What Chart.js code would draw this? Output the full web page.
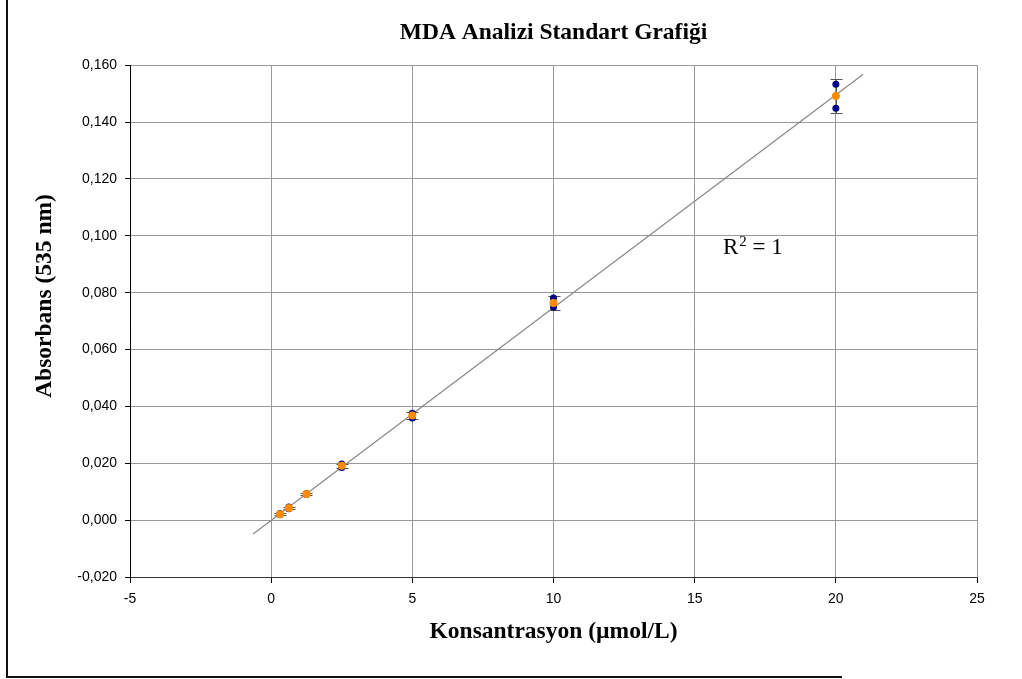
<!DOCTYPE html>
<html>
<head>
<meta charset="utf-8">
<title>MDA Analizi Standart Grafiği</title>
<script src="https://cdn.jsdelivr.net/npm/chart.js@4.4.1/dist/chart.umd.min.js"></script>
<style>
  html, body { margin: 0; padding: 0; background: #fff; overflow: hidden; }
  #wrap { position: relative; width: 1022px; height: 679px; }
  #frame { position: absolute; left: 6px; top: -4px; width: 834px; height: 680px;
           border-left: 2px solid #111; border-bottom: 2px solid #111; pointer-events: none; }
  #chart { position: absolute; left: 0; top: 0; }
</style>
</head>
<body>
<div id="wrap">
  <canvas id="chart" width="1022" height="679"></canvas>
  <div id="frame"></div>
</div>
<script>
// standard concentrations (µmol/L) and absorbance readings at 535 nm
const concentrations = [0.3125, 0.625, 1.25, 2.5, 5, 10, 20];
const meanAbs = [0.0021, 0.0043, 0.0092, 0.0191, 0.0368, 0.0764, 0.1492];
const replicateA = [0.0023, 0.0046, 0.0094, 0.0197, 0.0376, 0.0781, 0.1533];
const replicateB = [0.0019, 0.0040, 0.0090, 0.0185, 0.0359, 0.0749, 0.1449];
const sdAbs = [0.0003, 0.0004, 0.0003, 0.0008, 0.0012, 0.0025, 0.0060];

// linear trendline ends
const trendX = [-0.64, 20.97];
const trendY = [-0.0049, 0.1568];

const xTicks = [-5, 0, 5, 10, 15, 20, 25];
const yTicks = [-0.02, 0, 0.02, 0.04, 0.06, 0.08, 0.10, 0.12, 0.14, 0.16];

const serif = '"Liberation Serif", "Times New Roman", serif';
const sans = '"Liberation Sans", Arial, sans-serif';

const meanPoints = concentrations.map((x, i) => ({ x: x, y: meanAbs[i] }));
const replicatePoints = concentrations.map((x, i) => ({ x: x, y: replicateA[i] }))
  .concat(concentrations.map((x, i) => ({ x: x, y: replicateB[i] })));
const trendPoints = trendX.map((x, i) => ({ x: x, y: trendY[i] }));

// vertical error bars (± SD) behind the markers
const errorBars = {
  id: 'errorBars',
  beforeDatasetsDraw(chart) {
    const { ctx, scales: { x, y } } = chart;
    ctx.save();
    ctx.strokeStyle = '#555';
    ctx.lineWidth = 1;
    concentrations.forEach((c, i) => {
      const px = Math.round(x.getPixelForValue(c)) + 0.5;
      const top = Math.round(y.getPixelForValue(meanAbs[i] + sdAbs[i])) + 0.5;
      const bot = Math.round(y.getPixelForValue(meanAbs[i] - sdAbs[i])) + 0.5;
      ctx.beginPath();
      ctx.moveTo(px, top); ctx.lineTo(px, bot);
      ctx.moveTo(px - 6, top); ctx.lineTo(px + 6, top);
      ctx.moveTo(px - 6, bot); ctx.lineTo(px + 6, bot);
      ctx.stroke();
    });
    ctx.restore();
  }
};

// R² label of the trendline and the vertical axis title
const extraText = {
  id: 'extraText',
  afterDatasetsDraw(chart) {
    const { ctx, scales: { x, y } } = chart;
    ctx.save();
    ctx.fillStyle = '#000';
    ctx.textBaseline = 'middle';
    const rx = x.getPixelForValue(16.0), ry = y.getPixelForValue(0.0956);
    ctx.font = '23px ' + serif;
    ctx.fillText('R', rx, ry);
    const rw = ctx.measureText('R').width;
    ctx.font = '15px ' + serif;
    ctx.fillText('2', rx + rw + 1, ry - 6);
    const sw = ctx.measureText('2').width;
    ctx.font = '23px ' + serif;
    ctx.fillText(' = 1', rx + rw + sw + 1, ry);

    ctx.translate(45, 296);
    ctx.rotate(-Math.PI / 2);
    ctx.textAlign = 'center';
    ctx.font = 'bold 23.5px ' + serif;
    ctx.fillText('Absorbans (535 nm)', 0, 0);
    ctx.restore();
  }
};

new Chart(document.getElementById('chart'), {
  type: 'scatter',
  data: {
    datasets: [
      { label: 'Ortalama', data: meanPoints, backgroundColor: '#FF8C00', borderColor: '#FF8C00',
        pointRadius: 4, pointHoverRadius: 4, pointBorderWidth: 0 },
      { label: 'Tekrar', data: replicatePoints, backgroundColor: '#00008B', borderColor: '#00008B',
        pointRadius: 3.5, pointHoverRadius: 3.5, pointBorderWidth: 0 },
      { label: 'Doğrusal', data: trendPoints, type: 'line', showLine: true, borderColor: '#888',
        borderWidth: 1.2, pointRadius: 0, fill: false }
    ]
  },
  options: {
    responsive: false,
    animation: false,
    events: [],
    layout: { padding: { left: 0, right: 45, top: 0, bottom: 0 } },
    plugins: {
      legend: { display: false },
      tooltip: { enabled: false },
      title: {
        display: true,
        text: 'MDA Analizi Standart Grafiği',
        fullSize: false,
        color: '#000',
        font: { family: serif, size: 23.5, weight: 'bold' },
        padding: { top: 19, bottom: 18 }
      }
    },
    scales: {
      x: {
        type: 'linear',
        min: -5, max: 25,
        afterBuildTicks: (s) => { s.ticks = xTicks.map(v => ({ value: v })); },
        afterFit: (s) => { s.height = 102; },
        ticks: { color: '#000', font: { family: sans, size: 14 }, padding: 8,
                 callback: (v) => String(v) },
        grid: { color: '#999', lineWidth: 1, tickLength: 6, tickColor: '#000' },
        border: { color: '#333', width: 1 },
        title: { display: true, text: 'Konsantrasyon (µmol/L)', color: '#000',
                 font: { family: serif, size: 23.5, weight: 'bold' }, padding: { top: 0, bottom: 33 } }
      },
      y: {
        type: 'linear',
        min: -0.02, max: 0.16,
        afterBuildTicks: (s) => { s.ticks = yTicks.map(v => ({ value: v })); },
        afterFit: (s) => { s.width = 130; },
        ticks: { color: '#000', font: { family: sans, size: 14 }, padding: 8,
                 callback: (v) => v.toFixed(3).replace('.', ',') },
        grid: { color: '#999', lineWidth: 1, tickLength: 5, tickColor: '#000' },
        border: { color: '#000', width: 1 }
      }
    }
  },
  plugins: [errorBars, extraText]
});
</script>
</body>
</html>
